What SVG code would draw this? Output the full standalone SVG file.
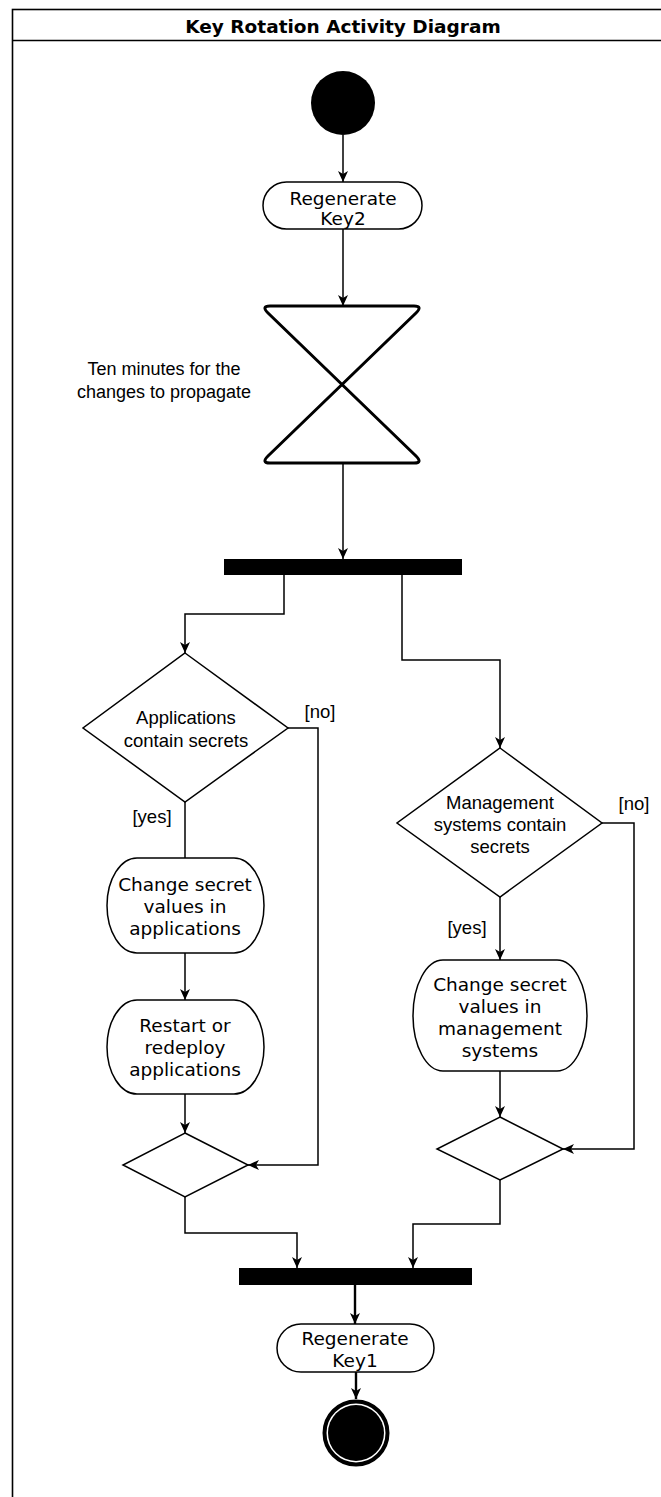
<svg xmlns="http://www.w3.org/2000/svg" width="661" height="1497" viewBox="0 0 661 1497">
<style>
.frame{fill:#fff;stroke:#000;stroke-width:1.6}
.node{fill:#fff;stroke:#000;stroke-width:1.5}
.bar{fill:#000;stroke:none}
.edge{fill:none;stroke:#000;stroke-width:1.5}
.thick{stroke-width:2.4}
.nt{font-family:"DejaVu Sans",Verdana,sans-serif;font-size:18.5px;fill:#000;text-anchor:middle}
.lt{font-family:"Liberation Sans",Arial,sans-serif;font-size:18.5px;fill:#000;text-anchor:middle}
.title{font-family:"DejaVu Sans",Verdana,sans-serif;font-size:18.5px;font-weight:bold;fill:#000;text-anchor:middle}
</style>
<defs>
<marker id="arr" markerUnits="userSpaceOnUse" markerWidth="12" markerHeight="12" refX="11" refY="6" orient="auto">
<path d="M0,1 L11,6 L0,11 L3,6 Z" fill="#000"/>
</marker>
</defs>
<g id="frame">
<rect class="frame" x="12.5" y="9.5" width="680" height="1520"/>
<line class="frame" x1="12.5" y1="40.5" x2="661" y2="40.5"/>
<text class="title" x="343" y="33">Key Rotation Activity Diagram</text>
</g>
<g id="edges">
<line class="edge" x1="343" y1="135" x2="343" y2="182" marker-end="url(#arr)"/>
<line class="edge" x1="343" y1="229" x2="343" y2="306" marker-end="url(#arr)"/>
<line class="edge" x1="343" y1="464" x2="343" y2="559" marker-end="url(#arr)"/>
<polyline class="edge" points="284,575 284,614 185,614 185,653" marker-end="url(#arr)"/>
<polyline class="edge" points="402,575 402,660 500,660 500,748" marker-end="url(#arr)"/>
<polyline class="edge" points="288,728 318,728 318,1165 248,1165" marker-end="url(#arr)"/>
<line class="edge" x1="185" y1="802" x2="185" y2="858"/>
<line class="edge" x1="185" y1="953" x2="185" y2="1000" marker-end="url(#arr)"/>
<line class="edge" x1="185" y1="1094" x2="185" y2="1133" marker-end="url(#arr)"/>
<polyline class="edge" points="185,1197 185,1233 297,1233 297,1268" marker-end="url(#arr)"/>
<polyline class="edge" points="602,823 634,823 634,1149 563,1149" marker-end="url(#arr)"/>
<line class="edge" x1="500" y1="897" x2="500" y2="960" marker-end="url(#arr)"/>
<line class="edge" x1="500" y1="1071" x2="500" y2="1117" marker-end="url(#arr)"/>
<polyline class="edge" points="500,1180 500,1224 413,1224 413,1268" marker-end="url(#arr)"/>
<line class="edge thick" x1="355" y1="1285" x2="355" y2="1324" marker-end="url(#arr)"/>
<line class="edge thick" x1="356" y1="1372" x2="356" y2="1399" marker-end="url(#arr)"/>
<text class="lt" x="320" y="718">[no]</text>
<text class="lt" x="152" y="823">[yes]</text>
<text class="lt" x="634" y="810">[no]</text>
<text class="lt" x="467" y="934">[yes]</text>
</g>
<g id="start">
<circle cx="343" cy="103" r="32" fill="#000"/>
</g>
<g id="regenKey2">
<rect class="node" x="263" y="182" width="159" height="47" rx="23.5" ry="23.5"/>
<text class="nt" x="343" y="205">Regenerate</text>
<text class="nt" x="343" y="225">Key2</text>
</g>
<g id="wait">
<path d="M270,306 L414,306 Q423,306 416,313 L268,456 Q261,463 270,463 L414,463 Q423,463 416,456 L268,313 Q261,306 270,306 Z" fill="#fff" stroke="#000" stroke-width="3" stroke-linejoin="round"/>
<text class="lt" x="164" y="375" style="font-size:18px">Ten minutes for the</text>
<text class="lt" x="164" y="398" style="font-size:18px">changes to propagate</text>
</g>
<g id="fork">
<rect class="bar" x="224" y="559" width="238" height="16"/>
</g>
<g id="decisionApps">
<polygon class="node" points="185,653 288,728 185,802 83,728"/>
<text class="lt" x="186" y="724">Applications</text>
<text class="lt" x="186" y="747">contain secrets</text>
</g>
<g id="changeApps">
<rect class="node" x="107" y="858" width="157" height="95" rx="30" ry="47.5"/>
<text class="nt" x="185" y="891">Change secret</text>
<text class="nt" x="185" y="913">values in</text>
<text class="nt" x="185" y="935">applications</text>
</g>
<g id="restartApps">
<rect class="node" x="107" y="1000" width="157" height="94" rx="30" ry="47"/>
<text class="nt" x="185" y="1032">Restart or</text>
<text class="nt" x="185" y="1054">redeploy</text>
<text class="nt" x="185" y="1076">applications</text>
</g>
<g id="mergeApps">
<polygon class="node" points="185,1133 248,1165 185,1197 123,1165"/>
</g>
<g id="decisionMgmt">
<polygon class="node" points="500,748 602,823 500,897 397,823"/>
<text class="lt" x="500" y="809">Management</text>
<text class="lt" x="500" y="831">systems contain</text>
<text class="lt" x="500" y="853">secrets</text>
</g>
<g id="changeMgmt">
<rect class="node" x="413" y="960" width="174" height="111" rx="30" ry="55.5"/>
<text class="nt" x="500" y="991">Change secret</text>
<text class="nt" x="500" y="1013">values in</text>
<text class="nt" x="500" y="1035">management</text>
<text class="nt" x="500" y="1057">systems</text>
</g>
<g id="mergeMgmt">
<polygon class="node" points="500,1117 563,1149 500,1180 437,1149"/>
</g>
<g id="join">
<rect class="bar" x="239" y="1268" width="233" height="17"/>
</g>
<g id="regenKey1">
<rect class="node" x="277" y="1324" width="157" height="48" rx="24" ry="24"/>
<text class="nt" x="355" y="1345">Regenerate</text>
<text class="nt" x="355" y="1367">Key1</text>
</g>
<g id="end">
<circle cx="356" cy="1433" r="31.5" fill="#fff" stroke="#000" stroke-width="4"/>
<circle cx="356" cy="1433" r="28" fill="#000"/>
</g>
</svg>
